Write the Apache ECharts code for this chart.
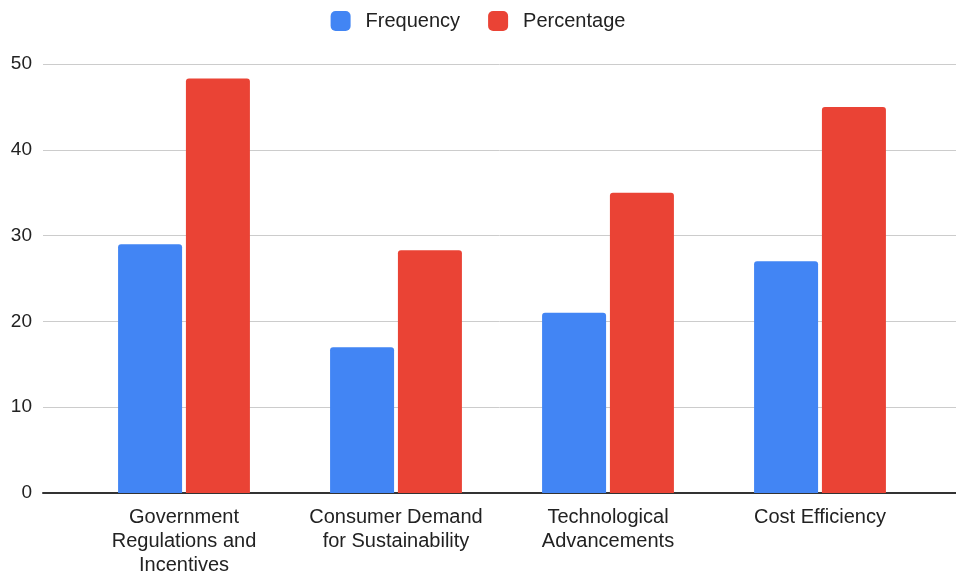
<!DOCTYPE html>
<html>
<head>
<meta charset="utf-8">
<script src="https://cdn.jsdelivr.net/npm/echarts@6/dist/echarts.min.js"></script>
<style>
  html, body { margin: 0; padding: 0; background: #fff; }
  #chart { width: 956px; height: 573px; }
</style>
</head>
<body>
<div id="chart"></div>
<script>
// Drivers of adoption: respondent counts and their share
const categories = [
  'Government\nRegulations and\nIncentives',
  'Consumer Demand\nfor Sustainability',
  'Technological\nAdvancements',
  'Cost Efficiency'
];
const frequency = [29, 17, 21, 27];
const percentage = [48.3, 28.3, 35, 45];
const yTicks = { min: 0, max: 50, interval: 10 };

const FONT = '"Liberation Sans", Arial, sans-serif';
const chart = echarts.init(document.getElementById('chart'));

chart.setOption({
  animation: false,
  textStyle: { fontFamily: FONT },
  legend: {
    top: 6,
    left: 'center',
    itemWidth: 20,
    itemHeight: 20,
    itemGap: 28,
    icon: 'roundRect',
    textStyle: { fontSize: 20, color: '#222', fontFamily: FONT, padding: [0, 0, 0, 10] },
    data: ['Frequency', 'Percentage']
  },
  grid: [
    // frame grid: value axis, gridlines and baseline across the full width
    { left: 43, right: 0, top: 64, bottom: 80, outerBoundsMode: 'none', containLabel: false },
    // bar grid: inset so the category groups sit inside the frame
    { left: 78, right: 30, top: 64, bottom: 80, outerBoundsMode: 'none', containLabel: false }
  ],
  xAxis: [
    {
      gridIndex: 0, type: 'category', data: categories,
      axisLine: { show: true, lineStyle: { color: '#333', width: 2 } },
      axisTick: { show: false }, axisLabel: { show: false }
    },
    {
      gridIndex: 1, type: 'category', data: categories,
      axisLine: { show: false }, axisTick: { show: false },
      axisLabel: {
        show: true, interval: 0, margin: 12,
        fontSize: 20, lineHeight: 24, color: '#222', fontFamily: FONT
      }
    }
  ],
  yAxis: [
    {
      gridIndex: 0, type: 'value',
      min: yTicks.min, max: yTicks.max, interval: yTicks.interval,
      axisLine: { show: false }, axisTick: { show: false },
      axisLabel: { margin: 11, fontSize: 19, color: '#222', fontFamily: FONT, padding: [4, 0, 0, 0] },
      splitLine: { lineStyle: { color: '#cccccc', width: 1 } }
    },
    {
      gridIndex: 1, type: 'value',
      min: yTicks.min, max: yTicks.max, interval: yTicks.interval,
      show: false, splitLine: { show: false }
    }
  ],
  series: [
    {
      name: 'Frequency', type: 'bar', xAxisIndex: 1, yAxisIndex: 1,
      data: frequency, barWidth: 64, barGap: '6%',
      itemStyle: { color: '#4285F4', borderRadius: [3, 3, 0, 0] }
    },
    {
      name: 'Percentage', type: 'bar', xAxisIndex: 1, yAxisIndex: 1,
      data: percentage, barWidth: 64, barGap: '6%',
      itemStyle: { color: '#EA4335', borderRadius: [3, 3, 0, 0] }
    }
  ]
});
</script>
</body>
</html>
